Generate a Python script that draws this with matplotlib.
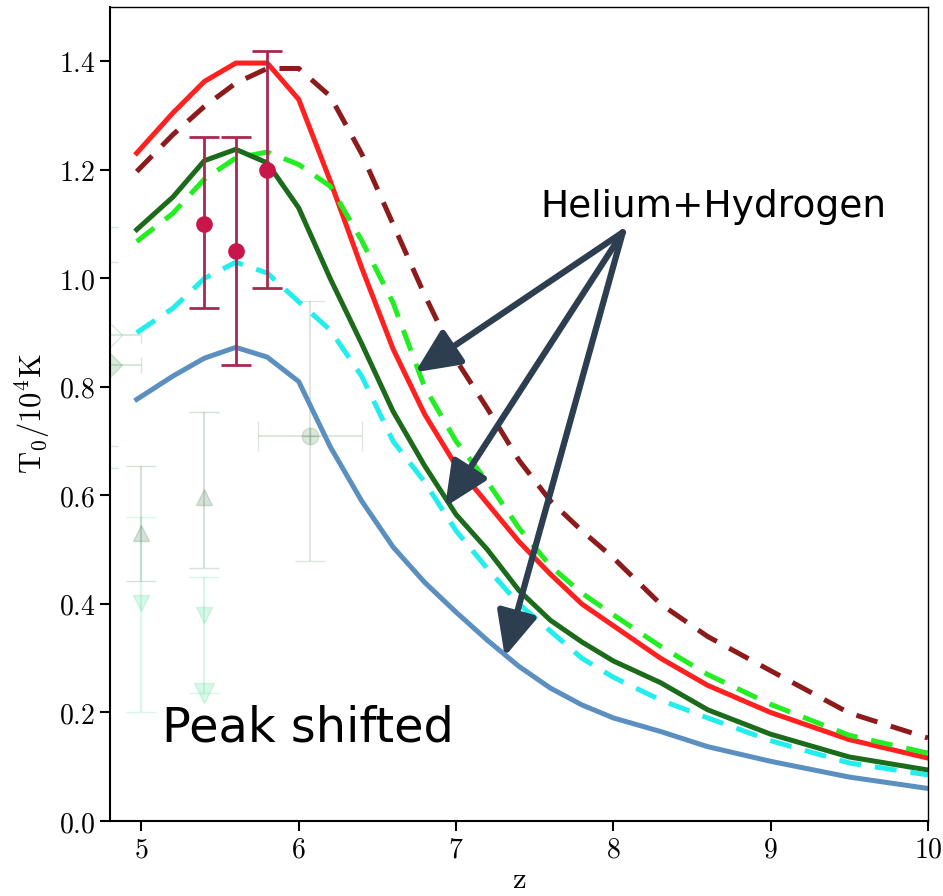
import numpy as np
import matplotlib
matplotlib.use('Agg')
import matplotlib.pyplot as plt
from matplotlib.ticker import FuncFormatter

plt.rcParams['mathtext.fontset'] = 'cm'

# model temperature histories on a common redshift grid
z = [4.97, 5.2, 5.4, 5.6, 5.8, 6.0, 6.2, 6.4, 6.6, 6.8, 7.0,
     7.2, 7.4, 7.6, 7.8, 8.0, 8.3, 8.6, 9.0, 9.5, 10.0]
t_red = [1.231, 1.305, 1.363, 1.397, 1.397, 1.33, 1.18, 1.02, 0.87, 0.75, 0.655,
         0.585, 0.515, 0.455, 0.40, 0.36, 0.30, 0.25, 0.2, 0.15, 0.116]
t_darkred = [1.197, 1.265, 1.317, 1.36, 1.387, 1.387, 1.336, 1.23, 1.10, 0.97, 0.85,
             0.76, 0.665, 0.59, 0.535, 0.485, 0.40, 0.34, 0.277, 0.199, 0.153]
t_lime = [1.068, 1.12, 1.183, 1.222, 1.233, 1.21, 1.17, 1.07, 0.955, 0.80, 0.70,
          0.625, 0.54, 0.47, 0.42, 0.38, 0.322, 0.27, 0.215, 0.158, 0.125]
t_darkgreen = [1.09, 1.15, 1.217, 1.238, 1.213, 1.13, 1.00, 0.88, 0.755, 0.655, 0.565,
               0.50, 0.425, 0.37, 0.33, 0.295, 0.255, 0.205, 0.16, 0.118, 0.094]
t_cyan = [0.90, 0.945, 1.0, 1.03, 1.01, 0.957, 0.905, 0.82, 0.70, 0.625, 0.535,
          0.465, 0.40, 0.35, 0.30, 0.265, 0.223, 0.19, 0.148, 0.107, 0.085]
t_blue = [0.777, 0.82, 0.853, 0.873, 0.855, 0.81, 0.69, 0.59, 0.505, 0.44, 0.385,
          0.333, 0.285, 0.245, 0.214, 0.19, 0.165, 0.137, 0.11, 0.081, 0.06]

# highlighted measurements
obs_z = [5.4, 5.6, 5.8]
obs_t = [1.10, 1.05, 1.20]
obs_lo = [0.155, 0.21, 0.217]
obs_hi = [0.16, 0.21, 0.22]

# faded literature points
dia_z = [4.8, 4.8]
dia_t = [0.895, 0.84]
dia_lo = [0.244, 0.148]
dia_hi = [0.20, 0.19]
tri_up_z = [5.0, 5.4]
tri_up_t = [0.531, 0.598]
tri_up_lo = [0.088, 0.131]
tri_up_hi = [0.124, 0.155]
tri_dn_z = [5.0, 5.4]
tri_dn_t = [0.402, 0.38]
tri_dn_lo = [0.201, 0.144]
tri_dn_hi = [0.159, 0.07]
circ_z = [6.07]
circ_t = [0.709]
circ_zerr = [0.33]
circ_lo = [0.23]
circ_hi = [0.25]

fig = plt.figure(figsize=(9.43, 8.96), dpi=100)
ax = fig.add_axes([0.1166, 0.0837, 0.8674, 0.9083])

# background data, very faint
ax.errorbar(dia_z[:1], dia_t[:1], yerr=[dia_lo[:1], dia_hi[:1]], xerr=0.2,
            fmt='D', ms=12, mfc='none', mec='#3a9a5a', color='#3a9a5a',
            alpha=0.2, capsize=6, elinewidth=1.5)
ax.errorbar(dia_z[1:], dia_t[1:], yerr=[dia_lo[1:], dia_hi[1:]], xerr=0.2,
            fmt='D', ms=12, color='#3a8a4a', alpha=0.2, capsize=6, elinewidth=1.5)
ax.errorbar(tri_up_z, tri_up_t, yerr=[tri_up_lo, tri_up_hi], fmt='^', ms=12,
            color='#4a7a5a', alpha=0.22, capsize=11, elinewidth=1.5)
ax.errorbar(tri_dn_z[:1], tri_dn_t[:1], yerr=[tri_dn_lo[:1], tri_dn_hi[:1]],
            fmt='v', ms=12, color='#3ed890', alpha=0.2, capsize=11, elinewidth=1.5)
ax.errorbar(tri_dn_z[1:], tri_dn_t[1:], yerr=[tri_dn_lo[1:], tri_dn_hi[1:]],
            fmt='v', ms=12, color='#3ed890', alpha=0.2, capsize=11, elinewidth=1.5)
ax.plot(tri_dn_z[1:], [tri_dn_t[1] - tri_dn_lo[1]], 'v', ms=14,
        color='#3ed890', alpha=0.2)
ax.errorbar(circ_z, circ_t, yerr=[circ_lo, circ_hi], xerr=circ_zerr, fmt='o',
            ms=12, color='#5a8a5a', alpha=0.2, capsize=11, elinewidth=1.5)
ax.plot(circ_z, circ_t, '+', ms=12, color='#5a8a5a', alpha=0.3)

# model curves
dash = (0, (4.4, 2.8))
ax.plot(z, t_darkred, color='#8e1b1b', lw=3.6, ls=dash)
ax.plot(z, t_red, color='#ff2020', lw=3.6)
ax.plot(z, t_lime, color='#22ee22', lw=3.6, ls=dash)
ax.plot(z, t_darkgreen, color='#1b6b1b', lw=3.6)
ax.plot(z, t_cyan, color='#22eeee', lw=3.6, ls=dash)
ax.plot(z, t_blue, color='#5b8fc0', lw=3.6)

ax.errorbar(obs_z, obs_t, yerr=[obs_lo, obs_hi], fmt='o', ms=11,
            color='#c8164a', ecolor='#a8284e', elinewidth=2, capsize=11,
            capthick=2, zorder=5)

# annotations
tail = (8.06, 1.085)
for tip in [(6.74, 0.827), (6.93, 0.579), (7.31, 0.303)]:
    ax.annotate('', xy=tip, xytext=tail,
                arrowprops=dict(arrowstyle='-|>,head_length=1.35,head_width=0.62',
                                mutation_scale=20, lw=4.5, color='#2c3e50',
                                shrinkA=0, shrinkB=0))
ax.text(7.535, 1.113, 'Helium+Hydrogen', fontsize=27, ha='left', va='baseline')
ax.text(5.133, 0.146, 'Peak shifted', fontsize=34.5, ha='left', va='baseline')

ax.set_xlim(4.8, 10)
ax.set_ylim(0, 1.5)
ax.set_xticks([5, 6, 7, 8, 9, 10])
ax.set_yticks(np.arange(0, 1.41, 0.2))
ax.xaxis.set_major_formatter(FuncFormatter(lambda v, p: f'${v:.0f}$'))
ax.yaxis.set_major_formatter(FuncFormatter(lambda v, p: f'${v:.1f}$'))
ax.tick_params(labelsize=20, length=7, width=1.5, direction='out')
ax.set_xlabel(r'$\mathrm{z}$', fontsize=22, labelpad=1)
ax.set_ylabel(r'$\mathrm{T_0/10^4K}$', fontsize=22)
for name, s in ax.spines.items():
    s.set_linewidth(1.0 if name in ('top', 'right') else 1.5)

plt.savefig('out.png', dpi=100)
